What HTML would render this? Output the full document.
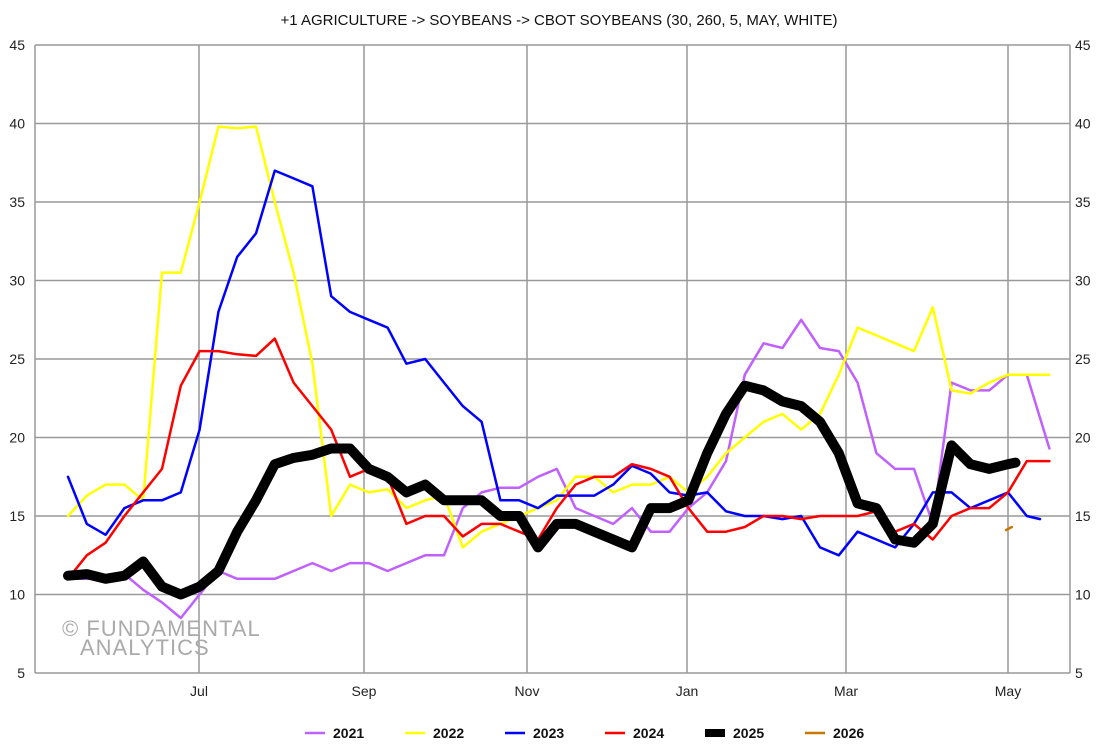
<!DOCTYPE html>
<html><head><meta charset="utf-8"><style>
body{margin:0;background:#fff;font-family:"Liberation Sans",Arial,sans-serif}
svg text{font-family:"Liberation Sans",Arial,sans-serif}
</style></head><body>
<svg id="c" width="1118" height="750"></svg>
<script>
const yTicks=[5,10,15,20,25,30,35,40,45];
const monthLabels=["Jul","Sep","Nov","Jan","Mar","May"];
const monthPx=[199,364,527,687,846,1008];
const years=["2021","2022","2023","2024","2025","2026"];
const colors=["#c060ff","#ffff00","#0000ff","#ff0000","#000000","#c87800"];
const s2021=[11,11,11,11.3,10.3,9.5,8.5,10,11.5,11,11,11,11.5,12,11.5,12,12,11.5,12,12.5,12.5,15.5,16.5,16.8,16.8,17.5,18,15.5,15,14.5,15.5,14,14,15.5,16.5,18.5,24,26,25.7,27.5,25.7,25.5,23.5,19,18,18,14.5,23.5,23,23,24,24,19.3];
const s2022=[15,16.3,17,17,16,30.5,30.5,35,39.8,39.7,39.8,35,30.5,24.7,15,17,16.5,16.7,15.5,16,16.3,13,14,14.5,15,15.5,16,17.5,17.5,16.5,17,17,17.5,16.5,17.5,19,20,21,21.5,20.5,21.5,24,27,26.5,26,25.5,28.3,23,22.8,23.5,24,24,24];
const s2023=[17.5,14.5,13.8,15.5,16,16,16.5,20.5,28,31.5,33,37,36.5,36,29,28,27.5,27,24.7,25,23.5,22,21,16,16,15.5,16.3,16.3,16.3,17,18.2,17.7,16.5,16.3,16.5,15.3,15,15,14.8,15,13,12.5,14,13.5,13,14.5,16.5,16.5,15.5,16,16.5,15,14.8];
const s2024=[11,12.5,13.3,15,16.5,18,23.3,25.5,25.5,25.3,25.2,26.3,23.5,22,20.5,17.5,18,17.5,14.5,15,15,13.7,14.5,14.5,14,13.5,15.5,17,17.5,17.5,18.3,18,17.5,15.5,14,14,14.3,15,15,14.8,15,15,15,15.3,14,14.5,13.5,15,15.5,15.5,16.5,18.5,18.5];
const s2025=[11.2,11.3,11,11.2,12.1,10.5,10,10.5,11.5,14,16,18.3,18.7,18.9,19.3,19.3,18,17.5,16.5,17,16,16,16,15,15,13,14.5,14.5,14,13.5,13,15.5,15.5,16,19,21.5,23.3,23,22.3,22,21,19,15.8,15.5,13.5,13.3,14.5,19.5,18.3,18,18.3,18.4];
const s2026=[14.1,14.3];
const w2021=[0,1,2,3,4,5,6,7,8,9,10,11,12,13,14,15,16,17,18,19,20,21,22,23,24,25,26,27,28,29,30,31,32,33,34,35,36,37,38,39,40,41,42,43,44,45,46,47,48,49,50,51,52.2];
const w2023end=51.7, w2025end=50.4;
const w2026=[49.9,50.2];
const series=[s2021,s2022,s2023,s2024,s2025,s2026];

const NS="http://www.w3.org/2000/svg";
const svg=document.getElementById('c');
const L=35,R=1070,T=45,B=673;
const yS=v=>B-(v-5)*(B-T)/40;
const xS=w=>68+w*18.8;
function el(t,a,p){const e=document.createElementNS(NS,t);for(const k in a)e.setAttribute(k,a[k]);(p||svg).appendChild(e);return e;}
const grid=el('g',{});


yTicks.forEach(v=>{
  el('line',{x1:L,x2:R,y1:yS(v),y2:yS(v),stroke:'#999','stroke-width':1.5},grid);
  const a=el('text',{x:25,y:yS(v)+5,'font-size':14,'text-anchor':'end',fill:'#222'});a.textContent=v;
  
  
  const b=el('text',{x:1075,y:yS(v)+5,'font-size':14,fill:'#222'});b.textContent=v;
  
  
});
monthLabels.forEach((m,i)=>{
  el('line',{x1:monthPx[i],x2:monthPx[i],y1:T,y2:B,stroke:'#999','stroke-width':1.5},grid);
  const t=el('text',{x:monthPx[i],y:696,'font-size':14,'text-anchor':'middle',fill:'#222'});t.textContent=m;
  
  
});
el('line',{x1:L,x2:L,y1:T,y2:B,stroke:'#999','stroke-width':1.5},grid);
el('line',{x1:R,x2:R,y1:T,y2:B,stroke:'#999','stroke-width':1.5},grid);
const title=el('text',{x:559,y:25,'font-size':15,'text-anchor':'middle',fill:'#111'});
title.textContent='+1 AGRICULTURE -> SOYBEANS -> CBOT SOYBEANS (30, 260, 5, MAY, WHITE)';


const wm=el('text',{x:62,y:636,'font-size':22,fill:'#aaa','letter-spacing':'1'});wm.textContent='© FUNDAMENTAL';


const wm2=el('text',{x:80,y:655,'font-size':22,fill:'#aaa','letter-spacing':'1'});wm2.textContent='ANALYTICS';



function weeksFor(i,arr){
  if(i===5)return w2026;
  return arr.map((v,k)=>{
    if(k===arr.length-1){
      if(i===2)return w2023end;
      if(i===4)return w2025end;
      return w2021[k];
    }
    return k;
  });
}
series.forEach((arr,i)=>{
  const ws=weeksFor(i,arr);
  const pts=arr.map((v,k)=>xS(ws[k]).toFixed(1)+','+yS(v).toFixed(1)).join(' ');
  const p=el('polyline',{points:pts,fill:'none',stroke:colors[i],'stroke-width':i===4?10:2.5,'stroke-linejoin':'round','stroke-linecap':'round'});
  
  
});
const lx=[305,405,505,605,705,805];
years.forEach((y,i)=>{
  const g=el('g',{});
  
  
  el('line',{x1:lx[i],x2:lx[i]+20,y1:733,y2:733,stroke:colors[i],'stroke-width':i===4?8:2.5},g);
  const t=el('text',{x:lx[i]+28,y:738,'font-size':14,'font-weight':'bold',fill:'#111'},g);t.textContent=y;
});
</script>
</body></html>
